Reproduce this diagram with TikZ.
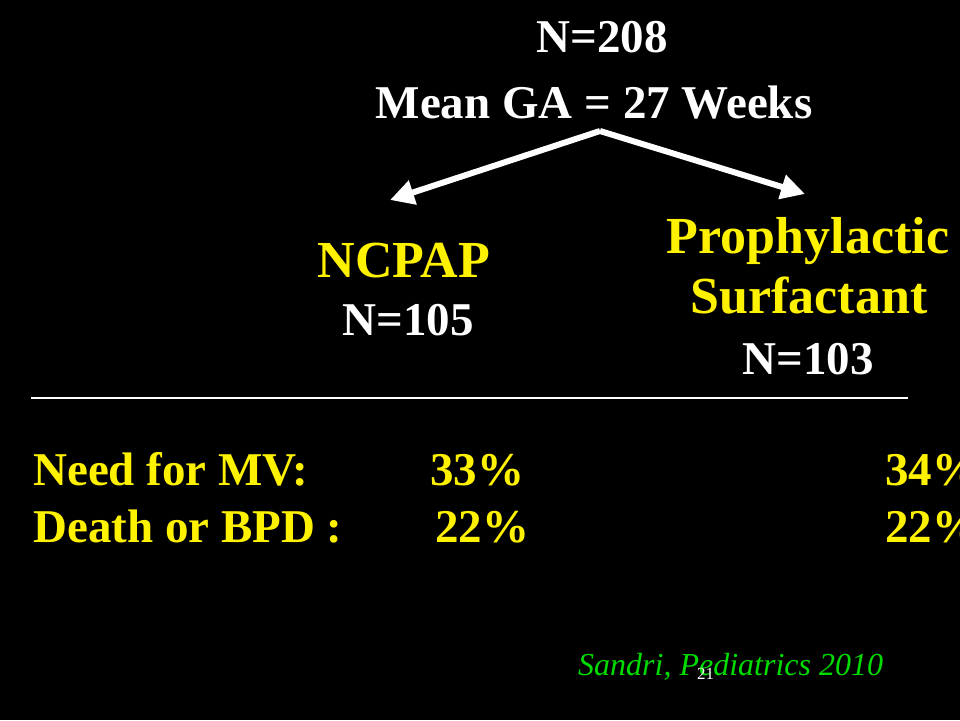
\documentclass[tikz,border=0pt]{standalone}
\usepackage{fontspec}
\setmainfont{Liberation Serif}
\usetikzlibrary{arrows.meta}

\begin{document}
\begin{tikzpicture}[x=1pt, y=-1pt,
    txt/.style = {text = white, font = \bfseries\fontsize{47}{56}\selectfont, anchor = base, inner sep = 0pt},
    ttl/.style = {txt, text = yellow, font = \bfseries\fontsize{52}{60}\selectfont},
    row/.style = {txt, text = yellow, anchor = base west},
    split/.style = {draw = white, line width = 6pt, -{Triangle[length = 24pt, width = 24pt]}}]
        \fill [black] (0,0) rectangle (960,720);
        \useasboundingbox (0,0) rectangle (960,720);

        \node [txt] (total) at (602, 52) {N=208};
        \node [txt] (ga) at (594, 118) {Mean GA = 27 Weeks};

        \coordinate (top) at (600, 131);
        \coordinate (tipL) at (390, 200);
        \coordinate (tipR) at (805, 194);
        \draw [split] (top) -- (tipL);
        \draw [split] (top) -- (tipR);

        \node [ttl] (ncpap) at (404, 277) {NCPAP};
        \node [txt] (n105) at (408, 335) {N=105};

        \node [ttl] (pro) at (808, 253) {Prophylactic};
        \node [ttl] (surf) at (809, 313) {Surfactant};
        \node [txt] (n103) at (808, 374) {N=103};

        \coordinate (hl) at (31, 398);
        \coordinate (hr) at (908, 398);
        \draw [white, line width = 1.5pt] (hl) -- (hr);

        \node [row] (mv) at (33, 485) {Need for MV:};
        \node [row] (mv1) at (430, 485) {33\%};
        \node [row] (mv2) at (885, 485) {34\%};
        \node [row] (bpd) at (33, 542) {Death or BPD :};
        \node [row] (bpd1) at (435, 542) {22\%};
        \node [row] (bpd2) at (885, 542) {22\%};

        \node [anchor = base west, inner sep = 0pt, text = {rgb,255:red,0;green,220;blue,0}, font = \itshape\fontsize{32}{38}\selectfont] (ref) at (578, 675) {Sandri, Pediatrics 2010};
        \node [anchor = base west, inner sep = 0pt, text = white, font = \fontsize{17}{20}\selectfont] (page) at (697, 679) {21};
\end{tikzpicture}
\end{document}
